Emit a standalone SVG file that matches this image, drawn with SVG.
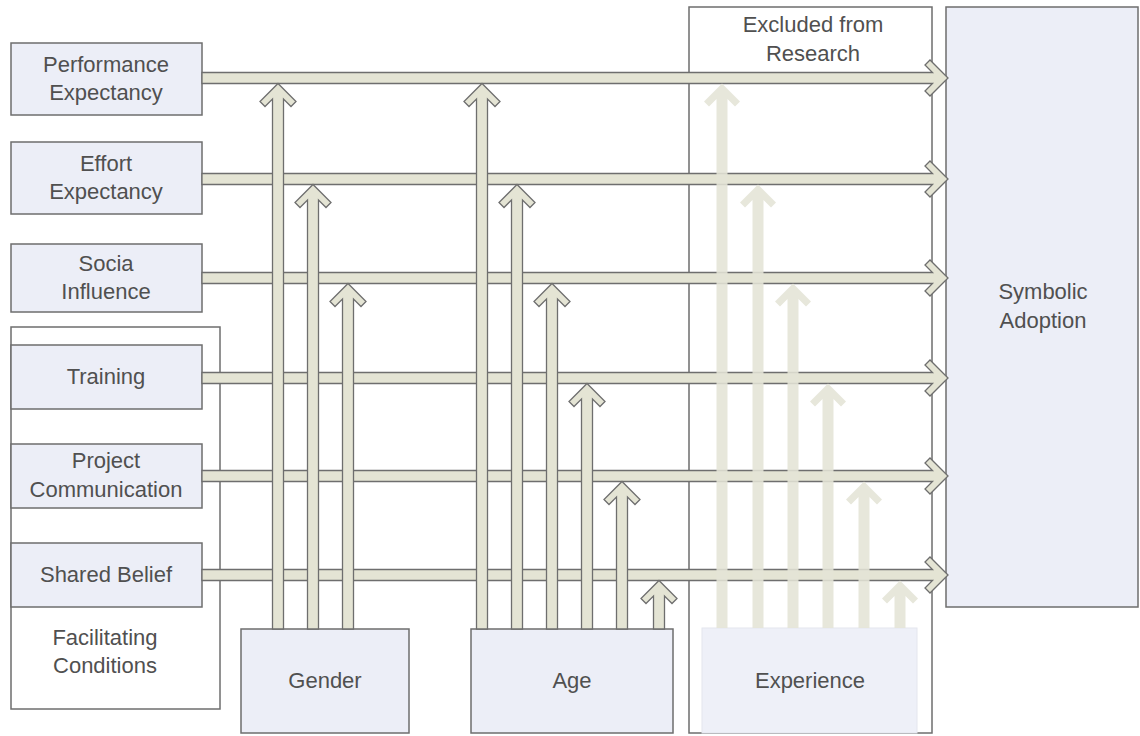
<svg xmlns="http://www.w3.org/2000/svg" width="1140" height="736" viewBox="0 0 1140 736">
<style>
.box{fill:#eceef7;stroke:#6e6e6e;stroke-width:1.5}
.frame{fill:none;stroke:#6e6e6e;stroke-width:1.5}
.exp{fill:#eef0f8;stroke:#e4e6ee;stroke-width:1}
.t{font-family:"Liberation Sans",Arial,sans-serif;font-size:22px;fill:#505050;text-anchor:middle}
.arr{fill:#e4e4d4;stroke:#6e6e6e;stroke-width:1.3;stroke-linejoin:miter}
.arrL{fill:#e4e4d6;stroke:none;opacity:0.88}
</style>
<rect width="1140" height="736" fill="#ffffff"/>
<g id="excluded">
<rect class="frame" x="689" y="7" width="243" height="726"/>
<text class="t" x="813" y="32">Excluded from</text>
<text class="t" x="813" y="61">Research</text>
</g>
<g id="facilitating">
<rect class="frame" x="11" y="327" width="209" height="382"/>
<text class="t" x="105" y="645">Facilitating</text>
<text class="t" x="105" y="673">Conditions</text>
</g>
<g id="symbolic">
<rect class="box" x="946" y="7" width="192" height="600"/>
<text class="t" x="1043" y="299">Symbolic</text>
<text class="t" x="1043" y="328">Adoption</text>
</g>
<g id="pe">
<rect class="box" x="11" y="43" width="191" height="72"/>
<text class="t" x="106" y="72">Performance</text>
<text class="t" x="106" y="100">Expectancy</text>
</g>
<g id="ee">
<rect class="box" x="11" y="142" width="191" height="72"/>
<text class="t" x="106" y="171">Effort</text>
<text class="t" x="106" y="199">Expectancy</text>
</g>
<g id="si">
<rect class="box" x="11" y="244" width="191" height="68"/>
<text class="t" x="106" y="271">Socia</text>
<text class="t" x="106" y="299">Influence</text>
</g>
<g id="training">
<rect class="box" x="11" y="345" width="191" height="64"/>
<text class="t" x="106" y="384">Training</text>
</g>
<g id="project">
<rect class="box" x="11" y="444" width="191" height="64"/>
<text class="t" x="106" y="468">Project</text>
<text class="t" x="106" y="497">Communication</text>
</g>
<g id="shared">
<rect class="box" x="11" y="543" width="191" height="64"/>
<text class="t" x="106" y="582">Shared Belief</text>
</g>
<g id="gender">
<rect class="box" x="241" y="629" width="168" height="104"/>
<text class="t" x="325" y="688">Gender</text>
</g>
<g id="age">
<rect class="box" x="471" y="629" width="202" height="104"/>
<text class="t" x="572" y="688">Age</text>
</g>
<g id="experience">
<rect class="exp" x="702" y="628" width="215" height="105"/>
<text class="t" x="810" y="688">Experience</text>
</g>
<g id="connectors">
<g id="horizontal">
<polygon class="arr" points="202,72.5 932.5,72.5 925,65 930,60 948,78 930,96 925,91 932.5,83.5 202,83.5"/>
<polygon class="arr" points="202,173.5 932.5,173.5 925,166 930,161 948,179 930,197 925,192 932.5,184.5 202,184.5"/>
<polygon class="arr" points="202,272.5 932.5,272.5 925,265 930,260 948,278 930,296 925,291 932.5,283.5 202,283.5"/>
<polygon class="arr" points="202,372.5 932.5,372.5 925,365 930,360 948,378 930,396 925,391 932.5,383.5 202,383.5"/>
<polygon class="arr" points="202,470.5 932.5,470.5 925,463 930,458 948,476 930,494 925,489 932.5,481.5 202,481.5"/>
<polygon class="arr" points="202,569.5 932.5,569.5 925,562 930,557 948,575 930,593 925,588 932.5,580.5 202,580.5"/>
</g>
<g id="gender-arrows">
<polygon class="arr" points="272.5,629 272.5,99 265,106.5 260,101.5 278,83.5 296,101.5 291,106.5 283.5,99 283.5,629"/>
<polygon class="arr" points="307.5,629 307.5,200 300,207.5 295,202.5 313,184.5 331,202.5 326,207.5 318.5,200 318.5,629"/>
<polygon class="arr" points="342.5,629 342.5,299 335,306.5 330,301.5 348,283.5 366,301.5 361,306.5 353.5,299 353.5,629"/>
</g>
<g id="age-arrows">
<polygon class="arr" points="476.5,629 476.5,99 469,106.5 464,101.5 482,83.5 500,101.5 495,106.5 487.5,99 487.5,629"/>
<polygon class="arr" points="511.5,629 511.5,200 504,207.5 499,202.5 517,184.5 535,202.5 530,207.5 522.5,200 522.5,629"/>
<polygon class="arr" points="546.5,629 546.5,299 539,306.5 534,301.5 552,283.5 570,301.5 565,306.5 557.5,299 557.5,629"/>
<polygon class="arr" points="581.5,629 581.5,399 574,406.5 569,401.5 587,383.5 605,401.5 600,406.5 592.5,399 592.5,629"/>
<polygon class="arr" points="616.5,629 616.5,497 609,504.5 604,499.5 622,481.5 640,499.5 635,504.5 627.5,497 627.5,629"/>
<polygon class="arr" points="653.5,629 653.5,596 646,603.5 641,598.5 659,580.5 677,598.5 672,603.5 664.5,596 664.5,629"/>
</g>
<g id="experience-arrows">
<polygon class="arrL" points="716.5,628 716.5,99 709,106.5 704,101.5 722,83.5 740,101.5 735,106.5 727.5,99 727.5,628"/>
<polygon class="arrL" points="752.5,628 752.5,200 745,207.5 740,202.5 758,184.5 776,202.5 771,207.5 763.5,200 763.5,628"/>
<polygon class="arrL" points="787.5,628 787.5,299 780,306.5 775,301.5 793,283.5 811,301.5 806,306.5 798.5,299 798.5,628"/>
<polygon class="arrL" points="822.5,628 822.5,399 815,406.5 810,401.5 828,383.5 846,401.5 841,406.5 833.5,399 833.5,628"/>
<polygon class="arrL" points="858.5,628 858.5,497 851,504.5 846,499.5 864,481.5 882,499.5 877,504.5 869.5,497 869.5,628"/>
<polygon class="arrL" points="894.5,628 894.5,596 887,603.5 882,598.5 900,580.5 918,598.5 913,603.5 905.5,596 905.5,628"/>
</g>
</g>
</svg>
